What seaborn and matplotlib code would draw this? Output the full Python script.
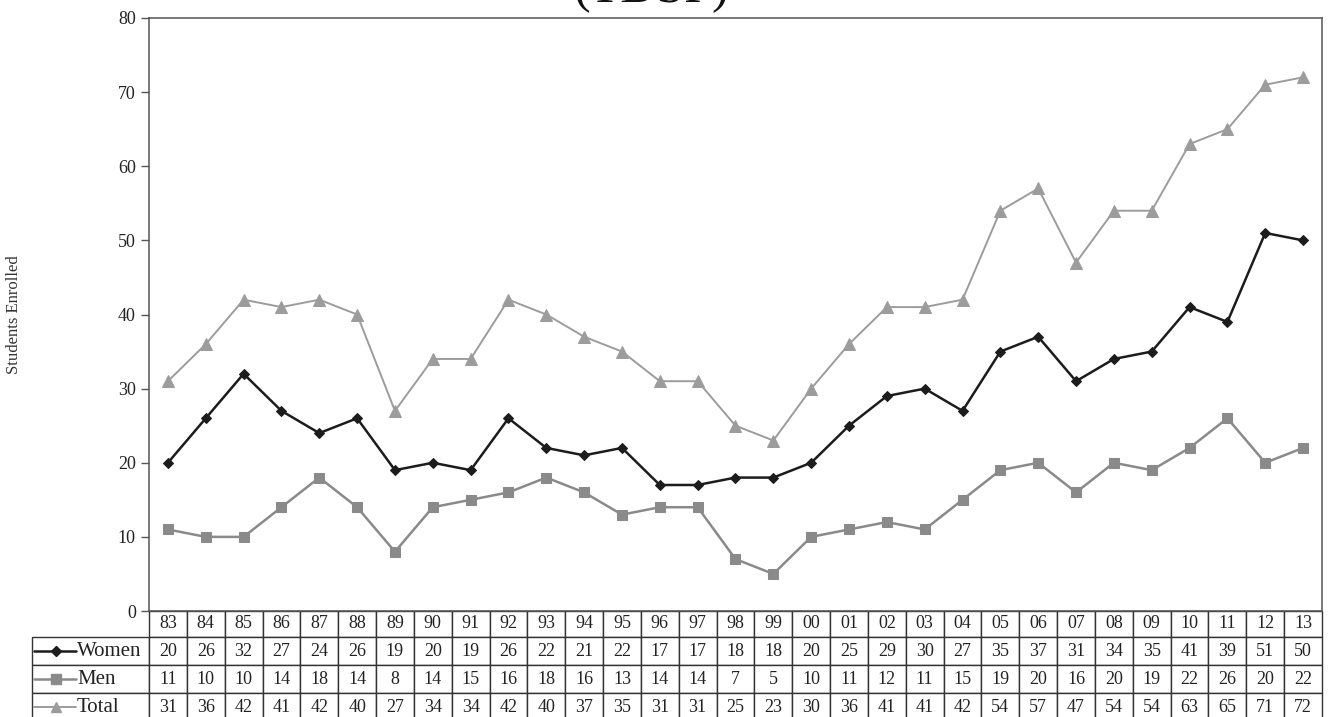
import matplotlib
matplotlib.use("Agg")
import matplotlib.pyplot as plt
import seaborn as sns
import pandas as pd

# data
years = ['83', '84', '85', '86', '87', '88', '89', '90', '91', '92', '93', '94', '95', '96', '97',
         '98', '99', '00', '01', '02', '03', '04', '05', '06', '07', '08', '09', '10', '11', '12', '13']
women = [20, 26, 32, 27, 24, 26, 19, 20, 19, 26, 22, 21, 22, 17, 17,
         18, 18, 20, 25, 29, 30, 27, 35, 37, 31, 34, 35, 41, 39, 51, 50]
men = [11, 10, 10, 14, 18, 14, 8, 14, 15, 16, 18, 16, 13, 14, 14,
       7, 5, 10, 11, 12, 11, 15, 19, 20, 16, 20, 19, 22, 26, 20, 22]
total = [31, 36, 42, 41, 42, 40, 27, 34, 34, 42, 40, 37, 35, 31, 31,
         25, 23, 30, 36, 41, 41, 42, 54, 57, 47, 54, 54, 63, 65, 71, 72]
series_names = ['Women', 'Men', 'Total']

df = pd.DataFrame({'pos': range(len(years)), 'Women': women, 'Men': men, 'Total': total})

sns.set_style('white')
plt.rcParams['font.family'] = ['Liberation Serif', 'DejaVu Serif']

W, H = 1330, 717
fig = plt.figure(figsize=(W / 100, H / 100), dpi=100)
# plot area in pixels: left 149, right 1322, top 18, bottom 611
ax = fig.add_axes([149 / W, (H - 611) / H, (1322 - 149) / W, (611 - 18) / H])

styles = {
    'Women': dict(color='#1c1c1c', marker='D', markersize=5.5, linewidth=1.8),
    'Men': dict(color='#8a8a8a', marker='s', markersize=7.5, linewidth=1.8),
    'Total': dict(color='#9c9c9c', marker='^', markersize=8, linewidth=1.4),
}
for name in series_names:
    st = styles[name]
    sns.lineplot(data=df, x='pos', y=name, ax=ax, color=st['color'], marker=st['marker'],
                 markersize=st['markersize'], linewidth=st['linewidth'],
                 markeredgecolor=st['color'], markerfacecolor=st['color'], clip_on=False)

ax.set_xlim(-0.5, len(years) - 0.5)
ax.set_ylim(0, 80)
ax.set_yticks(range(0, 81, 10))
ax.set_xticks([])
ax.set_xlabel('')
ax.set_ylabel('Students Enrolled', fontsize=12, color='#333333')
ax.yaxis.set_label_coords(-(149 - 22) / 1173, 0.5)
ax.tick_params(axis='y', direction='out', length=6, width=1, colors='#555555',
               labelsize=13, labelcolor='#222222', left=True)
for sp in ax.spines.values():
    sp.set_color('#555555')
    sp.set_linewidth(1.1)

# data table under the axis; first column holds the series names
ax_w, ax_h = 1173, 593
label_w = 149 - 32
head_h, row_h = 26, 28
tab_h = head_h + 3 * row_h
cell_text = [[name] + [str(v) for v in s] for name, s in zip(series_names, (women, men, total))]
tbl = ax.table(cellText=cell_text, colLabels=[''] + years, cellLoc='center',
               bbox=[-label_w / ax_w, -tab_h / ax_h, 1 + label_w / ax_w, tab_h / ax_h])
tbl.auto_set_font_size(False)
tbl.set_fontsize(13)
for (r, c), cell in tbl.get_celld().items():
    cell.set_edgecolor('#333333')
    cell.set_linewidth(1.0)
    cell.set_height(head_h if r == 0 else row_h)
    cell.set_width(label_w if c == 0 else ax_w / len(years))
    cell.get_text().set_color('#222222')
    if c == 0:
        if r == 0:
            cell.visible_edges = ''
        else:
            cell.PAD = 45 / label_w
            cell.get_text().set_horizontalalignment('left')
            cell.get_text().set_fontsize(15)

# legend keys inside the row-label cells
for i, name in enumerate(series_names):
    st = styles[name]
    yc = -(head_h + row_h * i + row_h / 2) / ax_h
    x0, x1, xm = (34 - 149) / ax_w, (76 - 149) / ax_w, (56 - 149) / ax_w
    ax.plot([x0, x1], [yc, yc], transform=ax.transAxes, clip_on=False,
            color=st['color'], linewidth=st['linewidth'])
    ax.plot([xm], [yc], transform=ax.transAxes, clip_on=False, linestyle='none',
            marker=st['marker'], markersize=st['markersize'] * 0.9,
            color=st['color'])

fig.text(0.49, 1 - 2 / H, '(TDSP)', fontsize=36, ha='center', va='baseline', color='#111111')

fig.savefig('out.png', dpi=100)
